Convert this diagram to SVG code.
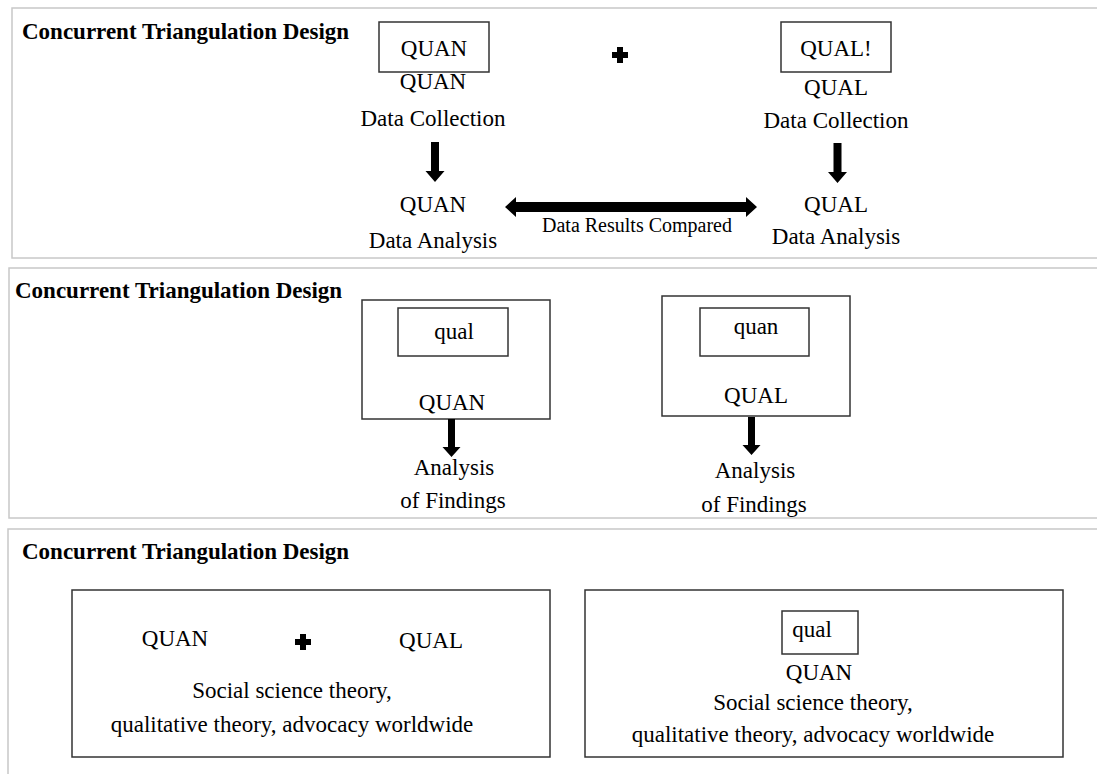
<svg xmlns="http://www.w3.org/2000/svg" width="1097" height="774" viewBox="0 0 1097 774">
  <style>
    .panel { fill: #ffffff; stroke: #c8c8c8; stroke-width: 1.5; }
    .box { fill: #ffffff; stroke: #333333; stroke-width: 1.5; }
    .title { font-family: "Liberation Serif", "Times New Roman", serif; font-size: 23px; font-weight: bold; fill: #000000; }
    .t { font-family: "Liberation Serif", "Times New Roman", serif; font-size: 23px; fill: #000000; text-anchor: middle; }
    .small { font-family: "Liberation Serif", "Times New Roman", serif; font-size: 20px; fill: #000000; text-anchor: middle; }
    .solid { fill: #000000; stroke: none; }
  </style>
  <defs>
    <!-- thick plus sign, centred on the origin -->
    <path id="plus" d="M-3,-8 H3 V-3 H8 V3 H3 V8 H-3 V3 H-8 V-3 H-3 Z"/>
    <!-- short block arrow pointing down, top at origin -->
    <path id="down" d="M-4,0 H4 V29 H9.5 L0,40 L-9.5,29 H-4 Z"/>
    <path id="downShort" d="M-3.5,0 H3.5 V28 H9 L0,38 L-9,28 H-3.5 Z"/>
  </defs>
  <rect width="1097" height="774" fill="#ffffff"/>

  <!-- panel frames -->
  <g id="panels">
    <rect class="panel" x="12" y="8" width="1100" height="250"/>
    <rect class="panel" x="9" y="268" width="1100" height="250"/>
    <rect class="panel" x="8" y="529" width="1100" height="260"/>
  </g>

  <!-- panel 1 : parallel QUAN / QUAL strands -->
  <text class="title" x="22" y="39">Concurrent Triangulation Design</text>
  <g id="quan-strand">
    <rect class="box" x="379" y="22" width="110" height="50"/>
    <text class="t" x="434" y="56">QUAN</text>
    <text class="t" x="433" y="89">QUAN</text>
    <text class="t" x="433" y="126">Data Collection</text>
  </g>
  <g id="quan-analysis">
    <text class="t" x="433" y="212">QUAN</text>
    <text class="t" x="433" y="248">Data Analysis</text>
  </g>
  <g id="plus-1">
    <use href="#plus" x="620" y="55"/>
  </g>
  <g id="qual-strand">
    <rect class="box" x="781" y="22" width="110" height="50"/>
    <text class="t" x="836" y="56">QUAL!</text>
    <text class="t" x="836" y="95">QUAL</text>
    <text class="t" x="836" y="128">Data Collection</text>
  </g>
  <g id="qual-analysis">
    <text class="t" x="836" y="212">QUAL</text>
    <text class="t" x="836" y="244">Data Analysis</text>
  </g>

  <!-- panel 2 : embedded designs -->
  <text class="title" x="15" y="298">Concurrent Triangulation Design</text>
  <g id="quan-embedded">
    <rect class="box" x="362" y="300" width="188" height="119"/>
    <rect class="box" x="398" y="308" width="110" height="48"/>
    <text class="t" x="454" y="339">qual</text>
    <text class="t" x="452" y="410">QUAN</text>
  </g>
  <g id="quan-findings">
    <text class="t" x="454" y="475">Analysis</text>
    <text class="t" x="453" y="508">of Findings</text>
  </g>
  <g id="qual-embedded">
    <rect class="box" x="662" y="296" width="188" height="120"/>
    <rect class="box" x="700" y="308" width="109" height="48"/>
    <text class="t" x="756" y="334">quan</text>
    <text class="t" x="756" y="403">QUAL</text>
  </g>
  <g id="qual-findings">
    <text class="t" x="755" y="478">Analysis</text>
    <text class="t" x="754" y="512">of Findings</text>
  </g>

  <!-- panel 3 : theory frameworks -->
  <text class="title" x="22" y="559">Concurrent Triangulation Design</text>
  <g id="framework-combined">
    <rect class="box" x="72" y="590" width="478" height="167"/>
    <text class="t" x="175" y="646">QUAN</text>
    <use href="#plus" x="303" y="642"/>
    <text class="t" x="431" y="648">QUAL</text>
    <text class="t" x="292" y="698">Social science theory,</text>
    <text class="t" x="292" y="732">qualitative theory, advocacy worldwide</text>
  </g>
  <g id="framework-nested">
    <rect class="box" x="585" y="590" width="478" height="167"/>
    <rect class="box" x="782" y="611" width="76" height="43"/>
    <text class="t" x="812" y="637">qual</text>
    <text class="t" x="819" y="680">QUAN</text>
    <text class="t" x="813" y="710">Social science theory,</text>
    <text class="t" x="813" y="742">qualitative theory, advocacy worldwide</text>
  </g>

  <!-- connectors -->
  <g id="connectors" class="solid">
    <use href="#down" x="435" y="142"/>
    <use href="#down" x="837.5" y="143"/>
    <path d="M505,207 L516,197 V202 H746 V197 L757,207 L746,217 V212 H516 V217 Z"/>
    <use href="#downShort" x="451.5" y="419"/>
    <use href="#downShort" x="751.5" y="417"/>
  </g>
  <text class="small" x="637" y="232">Data Results Compared</text>
</svg>
